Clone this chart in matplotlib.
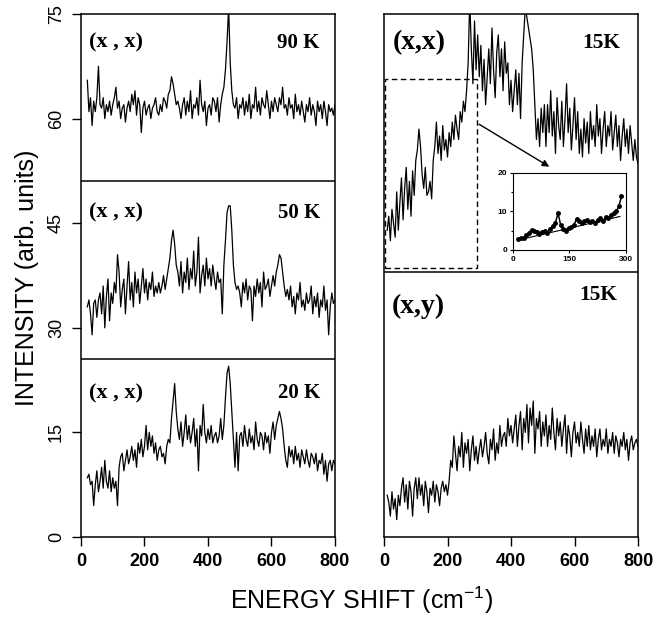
import numpy as np
import matplotlib
matplotlib.use('Agg')
import matplotlib.pyplot as plt
from matplotlib.patches import Rectangle

plt.rcParams['font.family'] = ['Liberation Sans', 'DejaVu Sans']
plt.rcParams['mathtext.default'] = 'regular'

# energy shift grids (cm^-1)
shift_left = np.arange(20, 801, 5)
shift_right = np.arange(10, 801, 5)

# left column, (x,x) polarisation, offset spectra
int_90k = [
    65.5, 61, 63, 59, 62.5, 61, 63, 67.5, 62, 61.5, 63, 60, 62, 61, 62.5, 60.5, 62, 63, 64.5, 61.5,
    62.5, 60, 61.5, 62, 59.5, 61.5, 62.5, 61, 63.5, 62, 64, 60.5, 63, 62, 58, 61.5, 62.5, 60.5, 61.5, 62,
    60, 61.5, 62, 63, 61, 60.5, 62, 61, 63, 62.5, 61.5, 63.5, 64, 66, 65, 63.5, 62, 62.5, 61.5, 60,
    62, 63, 60.5, 62.5, 61, 64, 60, 62, 61.5, 63, 60.5, 65.5, 62, 61, 62.5, 59, 61.5, 62, 60.5, 63,
    62.5, 61, 63, 59.5, 62, 63.5, 64.5, 67, 71, 76, 68, 64, 62, 61.5, 63, 60, 62, 61.5, 63, 60.5,
    62.5, 61, 63.5, 60, 62, 61.5, 64.5, 61, 62.5, 60.5, 63, 62, 61.5, 64, 62, 60, 62.5, 61, 63, 62,
    61, 63, 62, 64.5, 61.5, 62, 60.5, 63, 61.5, 62, 60, 63.5, 61, 62, 60.5, 62.5, 61, 59.5, 62, 61,
    63, 60.5, 62, 61, 59, 62.5, 61, 62, 60, 62.5, 61, 59, 62, 61, 61.5, 60.5, 62,
]
int_50k = [
    33, 34, 32, 29, 33.5, 34, 31.5, 34, 35, 32, 36, 30, 34.5, 37, 31, 35, 33.5, 36.5, 35, 40.5,
    38, 33, 35.5, 37, 32, 36, 39.5, 34, 36.5, 33, 38, 35, 37, 33.5, 36, 38.5, 35, 37, 34, 36.5,
    35.5, 38, 34.5, 36, 35, 36.5, 35, 36, 37.5, 35.5, 37, 38.5, 40, 42.5, 44, 42, 39, 38, 36, 39.5,
    35, 38, 36.5, 40, 35.5, 38.5, 37, 41, 36, 38, 43, 35, 37.5, 39, 36, 40, 37, 38.5, 36, 39,
    37, 35.5, 38, 36.5, 37, 32, 39, 42.5, 46.5, 47.5, 47.5, 44, 39, 36.5, 35.5, 36, 35, 33, 36.5, 35,
    37, 34, 36, 35.5, 31, 36, 34.5, 37, 35, 36.5, 33, 38, 35.5, 36, 37, 34.5, 36, 37.5, 36, 38,
    39, 40.5, 40, 38, 36, 34.5, 35.5, 34, 36, 33, 34.5, 32, 35, 34, 36.5, 33, 34, 32.5, 35, 33.5,
    34, 36, 32, 34.5, 33, 35, 31.5, 34, 33, 36, 32.5, 34, 29, 33, 35, 33.5, 34,
]
int_20k = [
    8.5, 9, 7.5, 8, 4.5, 7.5, 9.5, 6.5, 8, 10, 7, 11, 8, 7, 9.5, 6.5, 8.5, 7, 8, 4.5,
    10, 11.5, 12, 9.5, 11, 12.5, 10.5, 11.5, 13, 11, 12.5, 10, 13.5, 12, 14, 11.5, 13, 16, 12.5, 15,
    13, 14.5, 12, 13.5, 11, 12.5, 13, 11.5, 12, 10.5, 13, 14, 13.5, 17, 19.5, 22, 18, 15.5, 14, 16.5,
    13, 15, 17.5, 14, 16, 13.5, 15, 17, 13, 15.5, 9.5, 16, 14.5, 19, 15, 13.5, 15.5, 14, 16, 13.5,
    14.5, 15, 13.5, 14.5, 17, 14, 16, 20, 23.5, 24.5, 22, 18, 14, 10, 15, 9.5, 14.5, 15, 13, 16,
    14, 13, 15.5, 13.5, 14.5, 12.5, 16.5, 14, 13, 15, 14.5, 12.5, 15, 13.5, 14.5, 12, 15, 16.5, 14, 16,
    17, 18, 17, 15.5, 13, 11, 10, 13, 11.5, 12.5, 10.5, 13, 11, 12, 10, 12.5, 11.5, 10.5, 12.5, 11,
    10, 12, 11.5, 10.5, 12, 9.5, 11, 10.5, 12, 9, 11, 8, 10.5, 11, 9.5, 11, 10.5,
]

# right column, 15 K
int_15k_xx = [
    44, 46, 42.5, 47, 45, 43, 49.5, 44, 48, 51.5, 45.5, 50, 53, 47, 51, 46, 52.5, 49, 54, 55.5,
    58.5, 56, 52, 50, 53, 49, 49.5, 51, 48.5, 54, 56, 59.5, 55, 57.5, 54, 59, 55.5, 57, 54.5, 58,
    56, 59.5, 57, 60.5, 58.5, 57, 61, 59.5, 62.5, 61, 64, 68, 77, 70, 65, 74, 67, 72, 66, 70.5,
    64, 68.5, 62, 66, 70, 65, 73, 67, 63, 69.5, 72, 66, 70, 64, 71, 66.5, 68, 62, 65.5, 61,
    64, 67, 62, 66.5, 60, 68, 72, 76, 74.5, 73, 71.5, 70, 67, 62, 57, 60, 56, 61.5, 58, 62,
    56, 62, 58, 64, 57.5, 61, 55, 63, 59, 57, 62.5, 56, 60, 65, 58, 61.5, 55.5, 59, 63, 57,
    61, 55, 58.5, 54.5, 60, 56.5, 59.5, 55, 61, 57, 59, 56, 62, 57.5, 60, 55, 58.5, 61, 56, 59,
    57.5, 61, 55.5, 58, 60.5, 56, 59, 54, 57.5, 60, 56, 58.5, 55, 59, 56.5, 54, 57, 54.5, 53.5,
]
int_15k_xy = [
    6, 5, 3, 6.5, 4, 5.5, 2.5, 6, 4.5, 7, 8.5, 5, 7.5, 4, 8, 6.5, 3, 7, 8.5, 5.5,
    8.5, 6, 7.5, 4.5, 8, 6.5, 3.5, 7, 6, 8, 5, 7.5, 6.5, 4.5, 7, 8, 6.5, 7.5, 6, 8,
    11, 10, 14.5, 12, 9.5, 13, 11.5, 15, 10, 13.5, 12, 14, 9.5, 12.5, 14.5, 11, 13, 10.5, 12.5, 14,
    11.5, 13, 15, 12, 10.5, 14, 12.5, 15.5, 11, 13.5, 12, 16, 13, 14.5, 15, 13, 17, 14.5, 16, 13.5,
    15.5, 17.5, 13, 16, 18, 12.5, 17, 15, 19, 13.5, 18.5, 16, 19.5, 12, 17, 15.5, 18, 13, 16.5, 14.5,
    17.5, 13, 16, 14, 18.5, 15, 12.5, 17, 14.5, 16.5, 13, 15.5, 17.5, 12, 16, 14.5, 11.5, 15, 16.5, 13.5,
    15, 13, 16.5, 14, 12, 15.5, 13, 16, 12.5, 14.5, 13, 15.5, 11.5, 14, 15.5, 12.5, 14, 13, 15.5, 12,
    14, 13, 15, 12, 14.5, 13.5, 11.5, 14, 13, 15, 12.5, 14, 11, 13.5, 14.5, 12.5, 13.5, 14, 13,
]

# inset: low-energy part of the 15 K (x,x) spectrum
inset_x = [15, 22, 29, 36, 43, 50, 57, 64, 71, 78, 85, 92, 99, 106, 113, 120, 127, 134, 141, 148,
           155, 162, 169, 176, 183, 190, 197, 204, 211, 218, 225, 232, 239, 246, 253, 260, 267, 274, 281, 288]
inset_y = [2.8, 3.0, 3.2, 3.8, 4.5, 5.3, 5.0, 4.6, 4.2, 4.8, 5.0, 4.5, 5.5, 6.2, 7.0, 9.6, 6.5, 5.5, 5.0, 5.8,
           6.0, 6.5, 8.0, 7.5, 7.0, 7.4, 7.8, 7.2, 7.6, 7.0, 7.8, 8.3, 7.6, 8.5, 8.2, 9.0, 9.5, 10.0, 11.3, 13.9]
fit_x = [15, 284]
fit_y = [2.6, 8.7]

serif = ['Liberation Serif', 'DejaVu Serif']

fig = plt.figure(figsize=(6.66, 6.4), dpi=100)
ax_l = fig.add_axes([0.1216, 0.1609, 0.3814, 0.8172])
ax_r = fig.add_axes([0.5766, 0.1609, 0.3814, 0.8172])

for ax in (ax_l, ax_r):
    ax.set_xlim(0, 800)
    ax.set_ylim(0, 75)
    ax.set_xticks([0, 200, 400, 600, 800])
    ax.tick_params(direction='out', length=6.5, width=1, labelsize=13, pad=5)
    for lbl in ax.get_xticklabels():
        lbl.set_fontweight('bold')
    for s in ax.spines.values():
        s.set_linewidth(1.1)

ax_l.set_yticks([0, 15, 30, 45, 60, 75])
for lbl in ax_l.get_yticklabels():
    lbl.set_rotation(90)
    lbl.set_va('center')
ax_r.set_yticks([])

for y in (int_90k, int_50k, int_20k):
    ax_l.plot(shift_left, y, color='k', lw=0.9)
ax_l.axhline(25.5, color='k', lw=1.1)
ax_l.axhline(51, color='k', lw=1.1)

ax_r.plot(shift_right, int_15k_xx, color='k', lw=0.9)
ax_r.plot(shift_right, int_15k_xy, color='k', lw=0.9)
ax_r.axhline(38, color='k', lw=1.1)

# panel labels
for yy, temp in [(0.945, '90 K'), (0.62, '50 K'), (0.275, '20 K')]:
    ax_l.text(0.03, yy, '(x , x)', transform=ax_l.transAxes, family=serif,
              fontweight='bold', fontsize=16, va='center')
    ax_l.text(0.94, yy, temp, transform=ax_l.transAxes, family=serif,
              fontweight='bold', fontsize=15, va='center', ha='right')
ax_r.text(0.035, 0.945, '(x,x)', transform=ax_r.transAxes, family=serif,
          fontweight='bold', fontsize=20, va='center')
ax_r.text(0.93, 0.945, '15K', transform=ax_r.transAxes, family=serif,
          fontweight='bold', fontsize=15.5, va='center', ha='right')
ax_r.text(0.03, 0.44, '(x,y)', transform=ax_r.transAxes, family=serif,
          fontweight='bold', fontsize=20, va='center')
ax_r.text(0.92, 0.463, '15K', transform=ax_r.transAxes, family=serif,
          fontweight='bold', fontsize=15.5, va='center', ha='right')

# dashed box around low energy region + arrow to inset
ax_r.add_patch(Rectangle((3, 38.6), 290, 27.1, fill=False, ec='k', lw=1,
                         ls=(0, (4, 2.5))))
ax_r.annotate('', xy=(528, 52.9), xytext=(292, 59.4),
              arrowprops=dict(arrowstyle='-|>', color='k', lw=1, mutation_scale=10))

ax_in = fig.add_axes([0.7698, 0.6094, 0.1701, 0.1203])
ax_in.plot(inset_x, inset_y, 'o-', color='k', ms=2.5, lw=1.1)
ax_in.plot(fit_x, fit_y, color='k', lw=0.8)
ax_in.set_xlim(0, 300)
ax_in.set_ylim(0, 20)
ax_in.set_xticks([0, 150, 300])
ax_in.set_yticks([0, 10, 20])
ax_in.set_yticks([5, 15], minor=True)
ax_in.tick_params(direction='out', length=2.5, width=0.8, labelsize=6, pad=1.5)
ax_in.tick_params(which='minor', direction='out', length=1.5, width=0.8)
for lbl in ax_in.get_xticklabels() + ax_in.get_yticklabels():
    lbl.set_fontweight('bold')
for s in ax_in.spines.values():
    s.set_linewidth(0.8)

fig.text(27 / 666, 1 - 278 / 640, 'INTENSITY (arb. units)', rotation=90,
         ha='center', va='center', fontsize=18)
fig.text(0.5435, 0.0625, 'ENERGY SHIFT (cm$^{-1}$)', ha='center', va='center', fontsize=18)

fig.savefig('out.png', dpi=100)
